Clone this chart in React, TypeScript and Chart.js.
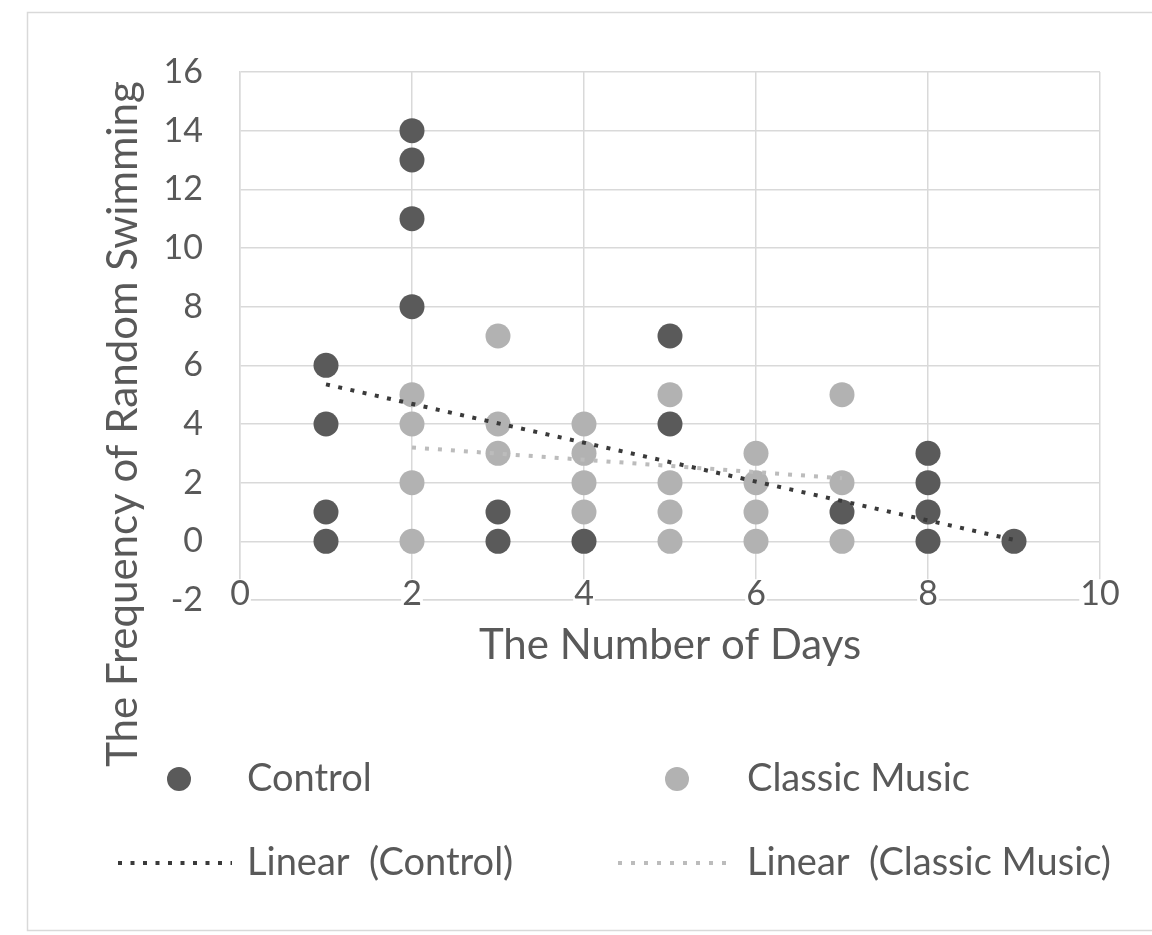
import React, { useEffect, useRef } from "react";
import { Chart, registerables } from "chart.js";

Chart.register(...registerables);

// ---- data ----
const controlDays = [1, 1, 1, 1, 2, 2, 2, 2, 3, 3, 4, 5, 5, 7, 8, 8, 8, 8, 9];
const controlFreq = [6, 4, 1, 0, 14, 13, 11, 8, 1, 0, 0, 7, 4, 1, 3, 2, 1, 0, 0];

const classicDays = [2, 2, 2, 2, 3, 3, 3, 4, 4, 4, 4, 5, 5, 5, 5, 6, 6, 6, 6, 7, 7, 7];
const classicFreq = [5, 4, 2, 0, 7, 4, 3, 4, 3, 2, 1, 5, 2, 1, 0, 3, 2, 1, 0, 5, 2, 0];

const controlTrendDays = [1, 9];
const controlTrendFreq = [5.35, 0.05];
const classicTrendDays = [2, 7];
const classicTrendFreq = [3.2, 2.15];

const seriesLabels = ["Control", "Classic Music", "Linear  (Control)", "Linear  (Classic Music)"];
const xTitle = "The Number of Days";
const yTitle = "The Frequency of Random Swimming";

const FONT = "Lato, 'Open Sans', sans-serif";
const TEXT = "#595959";
const GRID = "#d9d9d9";
const DARK = "#5a5a5a";
const LIGHT = "#b2b2b2";
const TICK_FS = 34;
const TITLE_FS = 42;
const LEGEND_FS = 38;

const toPts = (xs: number[], ys: number[]) => xs.map((x, i) => ({ x, y: ys[i] }));

export default function App() {
  const ref = useRef<HTMLCanvasElement>(null);

  useEffect(() => {
    document.body.style.margin = "0";
    const canvas = ref.current!;

    const bgPlugin = {
      id: "bgBorder",
      beforeDraw(chart: any) {
        const { ctx, width, height } = chart;
        ctx.save();
        ctx.fillStyle = "#ffffff";
        ctx.fillRect(0, 0, width, height);
        ctx.strokeStyle = GRID;
        ctx.lineWidth = 1.5;
        ctx.strokeRect(27.5, 12.5, 1140, 918);
        ctx.restore();
      },
    };

    const yTitlePlugin = {
      id: "yTitle",
      afterDraw(chart: any) {
        const { ctx } = chart;
        ctx.save();
        ctx.translate(123, 424);
        ctx.rotate(-Math.PI / 2);
        ctx.font = `${TITLE_FS}px ${FONT}`;
        ctx.fillStyle = TEXT;
        ctx.textAlign = "center";
        ctx.textBaseline = "middle";
        ctx.fillText(yTitle, 0, 0);
        ctx.restore();
      },
    };

    const legendPlugin = {
      id: "gridLegend",
      afterDraw(chart: any) {
        const { ctx } = chart;
        const slots = [
          { mx: 179, tx: 247, y: 779, lx0: 118, lx1: 232 },
          { mx: 677, tx: 747, y: 779, lx0: 618, lx1: 730 },
          { mx: 179, tx: 247, y: 863, lx0: 118, lx1: 232 },
          { mx: 677, tx: 747, y: 863, lx0: 618, lx1: 730 },
        ];
        chart.data.datasets.forEach((ds: any, i: number) => {
          const s = slots[i];
          ctx.save();
          if (ds.showLine) {
            ctx.strokeStyle = ds.borderColor;
            ctx.lineWidth = ds.borderWidth;
            ctx.setLineDash(ds.borderDash);
            ctx.beginPath();
            ctx.moveTo(s.lx0, s.y);
            ctx.lineTo(s.lx1, s.y);
            ctx.stroke();
          } else {
            ctx.fillStyle = ds.backgroundColor;
            ctx.beginPath();
            ctx.arc(s.mx, s.y, 12, 0, Math.PI * 2);
            ctx.fill();
          }
          ctx.setLineDash([]);
          ctx.font = `${LEGEND_FS}px ${FONT}`;
          ctx.fillStyle = TEXT;
          ctx.textAlign = "left";
          ctx.textBaseline = "middle";
          ctx.fillText(ds.label, s.tx, s.y);
          ctx.restore();
        });
      },
    };

    const chart = new Chart(canvas, {
      type: "scatter",
      data: {
        datasets: [
          {
            label: seriesLabels[0],
            data: toPts(controlDays, controlFreq),
            backgroundColor: DARK,
            borderColor: DARK,
            borderWidth: 0,
            pointRadius: 12.5,
            pointHoverRadius: 12.5,
            showLine: false,
            order: 2,
          },
          {
            label: seriesLabels[1],
            data: toPts(classicDays, classicFreq),
            backgroundColor: LIGHT,
            borderColor: LIGHT,
            borderWidth: 0,
            pointRadius: 12.5,
            pointHoverRadius: 12.5,
            showLine: false,
            order: 3,
          },
          {
            label: seriesLabels[2],
            data: toPts(controlTrendDays, controlTrendFreq),
            showLine: true,
            borderColor: "#3a3a3a",
            backgroundColor: "#3a3a3a",
            borderWidth: 4,
            borderDash: [4, 8.5],
            pointRadius: 0,
            pointHoverRadius: 0,
            fill: false,
            order: 0,
          },
          {
            label: seriesLabels[3],
            data: toPts(classicTrendDays, classicTrendFreq),
            showLine: true,
            borderColor: "#bcbcbc",
            backgroundColor: "#bcbcbc",
            borderWidth: 4,
            borderDash: [4, 9],
            pointRadius: 0,
            pointHoverRadius: 0,
            fill: false,
            order: 1,
          },
        ],
      } as any,
      options: {
        animation: false,
        responsive: false,
        layout: { padding: { top: 72, right: 52, left: 0, bottom: 264 } },
        plugins: {
          legend: { display: false },
          tooltip: { enabled: false },
        },
        scales: {
          x: {
            type: "linear",
            min: 0,
            max: 10,
            afterFit: (s: any) => {
              s.height = 71;
            },
            ticks: {
              stepSize: 2,
              color: TEXT,
              font: { family: FONT, size: TICK_FS },
              mirror: true,
              padding: -14,
              showLabelBackdrop: true,
              backdropColor: "#ffffff",
              backdropPadding: { top: -6, bottom: 0, left: 1, right: 1 },
              z: 1,
            },
            grid: { color: GRID, lineWidth: 1.5, drawTicks: false },
            border: { color: GRID, width: 1.5 },
            title: {
              display: true,
              text: xTitle,
              color: TEXT,
              font: { family: FONT, size: TITLE_FS },
              padding: 0,
            },
          },
          y: {
            type: "linear",
            min: -2,
            max: 16,
            afterFit: (s: any) => {
              s.width = 240;
            },
            ticks: {
              stepSize: 2,
              color: TEXT,
              font: { family: FONT, size: TICK_FS },
              padding: 37,
            },
            grid: { color: GRID, lineWidth: 1.5, drawTicks: false },
            border: { color: GRID, width: 1.5 },
          },
        },
      } as any,
      plugins: [bgPlugin, yTitlePlugin, legendPlugin],
    });

    return () => chart.destroy();
  }, []);

  return <canvas ref={ref} width={1152} height={935} style={{ display: "block" }} />;
}
